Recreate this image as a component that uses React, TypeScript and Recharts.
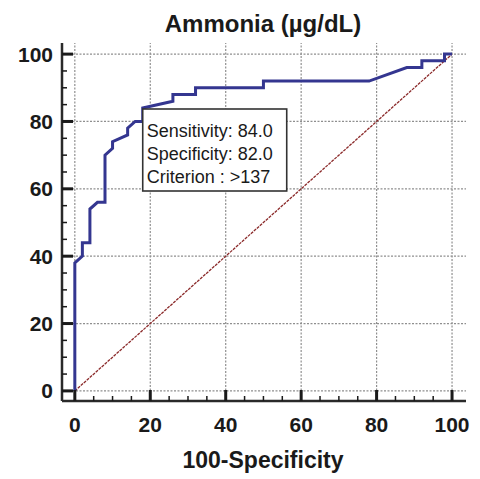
import { LineChart, Line, XAxis, YAxis, ReferenceLine, ReferenceDot } from "recharts"

// ROC curve points (100-Specificity, Sensitivity)
const rocFpr = [0, 0, 2, 2, 4, 4, 6, 8, 8, 10, 10, 14, 14, 16, 18, 18, 26, 26, 32, 32, 50, 50, 78, 88, 92, 92, 98, 98, 100]
const rocSens = [0, 38, 40, 44, 44, 54, 56, 56, 70, 72, 74, 76, 78, 80, 80, 84, 86, 88, 88, 90, 90, 92, 92, 96, 96, 98, 98, 100, 100]

const diagFpr = [0, 100]
const diagSens = [0, 100]

// criterion point + its text box
const cutFpr = 18
const cutSens = 84
const boxLines = ["Sensitivity: 84.0", "Specificity: 82.0", "Criterion : >137"]

const ticks = [0, 5, 10, 15, 20, 25, 30, 35, 40, 45, 50, 55, 60, 65, 70, 75, 80, 85, 90, 95, 100]
const majorTicks = [0, 20, 40, 60, 80, 100]

const title = "Ammonia (µg/dL)"
const xTitle = "100-Specificity"

const roc = rocFpr.map((x, i) => ({ x, y: rocSens[i] }))
const diag = diagFpr.map((x, i) => ({ x, y: diagSens[i] }))

const font = "'Liberation Sans', Arial, sans-serif"
const ink = "#1a1a1a"

const XTick = (props: any) => {
  const { x, y, payload } = props
  const major = payload.value % 20 === 0
  const len = major ? 11 : 5
  const w = major ? 3 : 1.5
  return (
    <g>
      <rect x={x - w / 2} y={y - len} width={w} height={len} fill={ink} />
      {major && (
        <text x={x} y={y + 31} textAnchor="middle" fontFamily={font} fontWeight="bold" fontSize={21} fill={ink}>
          {payload.value}
        </text>
      )}
    </g>
  )
}

const YTick = (props: any) => {
  const { x, y, payload } = props
  const major = payload.value % 20 === 0
  const len = major ? 11 : 5
  const w = major ? 3 : 1.5
  return (
    <g>
      <rect x={x} y={y - w / 2} width={len} height={w} fill={ink} />
      {major && (
        <text x={x - 9} y={y + 7.5} textAnchor="end" fontFamily={font} fontWeight="bold" fontSize={21} fill={ink}>
          {payload.value}
        </text>
      )}
    </g>
  )
}

const CriterionBox = (props: any) => {
  const { cx, cy } = props
  return (
    <g>
      <rect x={cx} y={cy + 1} width={144} height={82} fill="#fff" stroke="#333" strokeWidth={1.6} />
      {boxLines.map((t, i) => (
        <text key={t} x={cx + 4} y={cy + 29 + i * 23} fontFamily={font} fontSize={18} fill={ink}>
          {t}
        </text>
      ))}
    </g>
  )
}

export default function App() {
  return (
    <div style={{ position: "absolute", left: 0, top: 0 }}>
      <LineChart width={480} height={479} margin={{ top: 43, right: 14, bottom: 0, left: 0 }}>
        {majorTicks.map((v) => (
          <ReferenceLine key={"vx" + v} x={v} stroke="#8f8f8f" strokeDasharray="2 1.5" strokeWidth={1.2} />
        ))}
        {majorTicks.map((v) => (
          <ReferenceLine key={"hy" + v} y={v} stroke="#8f8f8f" strokeDasharray="2 1.5" strokeWidth={1.2} />
        ))}
        <XAxis
          type="number"
          dataKey="x"
          domain={[-3.4, 103.7]}
          allowDataOverflow
          ticks={ticks}
          interval={0}
          tickSize={0}
          tickMargin={0}
          tick={XTick}
          axisLine={{ stroke: "#2a2a2a", strokeWidth: 2.5 }}
          height={78}
        />
        <YAxis
          type="number"
          dataKey="y"
          domain={[-3, 103.3]}
          allowDataOverflow
          ticks={ticks}
          interval={0}
          tickSize={0}
          tickMargin={0}
          tick={YTick}
          axisLine={{ stroke: "#2a2a2a", strokeWidth: 2.5 }}
          width={62}
        />
        <Line
          data={diag}
          dataKey="y"
          type="linear"
          stroke="#8b2a2a"
          strokeWidth={1.3}
          strokeDasharray="3 1"
          dot={false}
          isAnimationActive={false}
        />
        <Line
          data={roc}
          dataKey="y"
          type="linear"
          stroke="#343690"
          strokeWidth={3}
          dot={false}
          isAnimationActive={false}
        />
        <ReferenceDot x={cutFpr} y={cutSens} shape={CriterionBox} />
      </LineChart>
      <svg width={480} height={479} style={{ position: "absolute", left: 0, top: 0, pointerEvents: "none" }}>
        <text x={263} y={32} textAnchor="middle" fontFamily={font} fontWeight="bold" fontSize={24} fill={ink}>
          {title}
        </text>
        <text x={263} y={468} textAnchor="middle" fontFamily={font} fontWeight="bold" fontSize={23} fill={ink}>
          {xTitle}
        </text>
      </svg>
    </div>
  )
}
